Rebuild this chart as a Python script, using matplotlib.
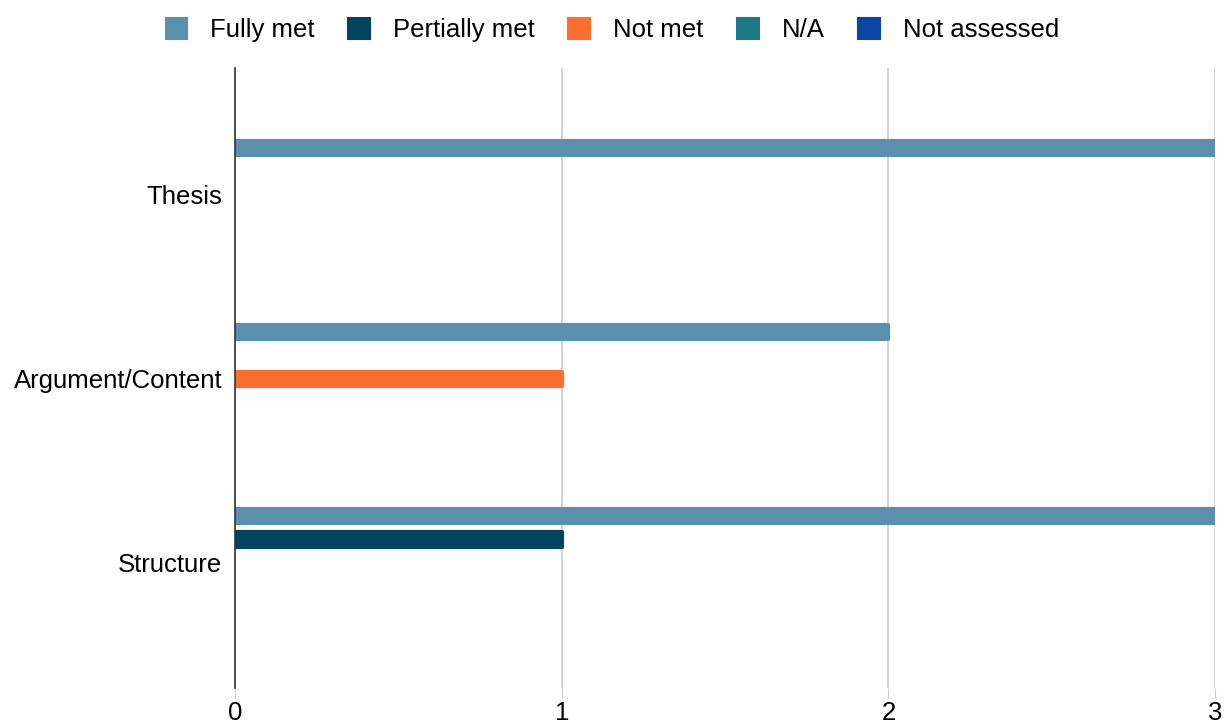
import matplotlib.pyplot as plt
import matplotlib.patches as mpatches
import numpy as np

plt.rcParams['font.family'] = ['Liberation Sans', 'DejaVu Sans']

categorias = ['Thesis', 'Argument/Content', 'Structure']
series = ['Fully met', 'Pertially met', 'Not met', 'N/A', 'Not assessed']
fully_met = [3, 2, 3]
partially_met = [0, 0, 1]
not_met = [0, 1, 0]
na = [0, 0, 0]
not_assessed = [0, 0, 0]
cores = ['#5990ae', '#02445e', '#ff6d31', '#1f7887', '#0d45a6']

valores = [fully_met, partially_met, not_met, na, not_assessed]

fig = plt.figure(figsize=(12.3, 7.24), dpi=100)
ax = fig.add_axes([0.191, 0.0497, 0.797, 0.8563])

y = np.arange(len(categorias))
passo = 0.128
altura = 0.078
for i, (nome, vals, cor) in enumerate(zip(series, valores, cores)):
    barras = ax.barh(y + (i - 2) * passo, vals, height=altura, color=cor,
                     edgecolor=cor, linewidth=3, zorder=3)
    for b in barras:
        b.set_joinstyle('round')
        if b.get_width() == 0:
            b.set_linewidth(0)

ax.set_ylim(2.68, -0.69)
ax.set_xlim(0, 3)
ax.set_yticks(y)
ax.set_yticklabels(categorias, fontsize=18.5)
ax.set_xticks([0, 1, 2, 3])
ax.set_xticklabels(['0', '1', '2', '3'], fontsize=18.5)
ax.tick_params(axis='y', length=0, pad=9)
ax.tick_params(axis='x', length=7, color='#cccccc', pad=2)
ax.grid(axis='x', color='#cccccc', linewidth=1.2, zorder=0)
for lado in ['top', 'right', 'bottom']:
    ax.spines[lado].set_visible(False)
ax.spines['left'].set_color('#333333')
ax.spines['left'].set_linewidth(1.2)
ax.spines['left'].set_zorder(4)

handles = [mpatches.Patch(facecolor=c, edgecolor=c, linewidth=1.5,
                          joinstyle='round', label=n)
           for n, c in zip(series, cores)]
fig.legend(handles=handles, loc='center', bbox_to_anchor=(0.498, 0.958), ncol=5,
           frameon=False, fontsize=18.5, handlelength=0.85, handleheight=0.85,
           handletextpad=0.9, columnspacing=1.3)

plt.savefig('out.png', dpi=100)
